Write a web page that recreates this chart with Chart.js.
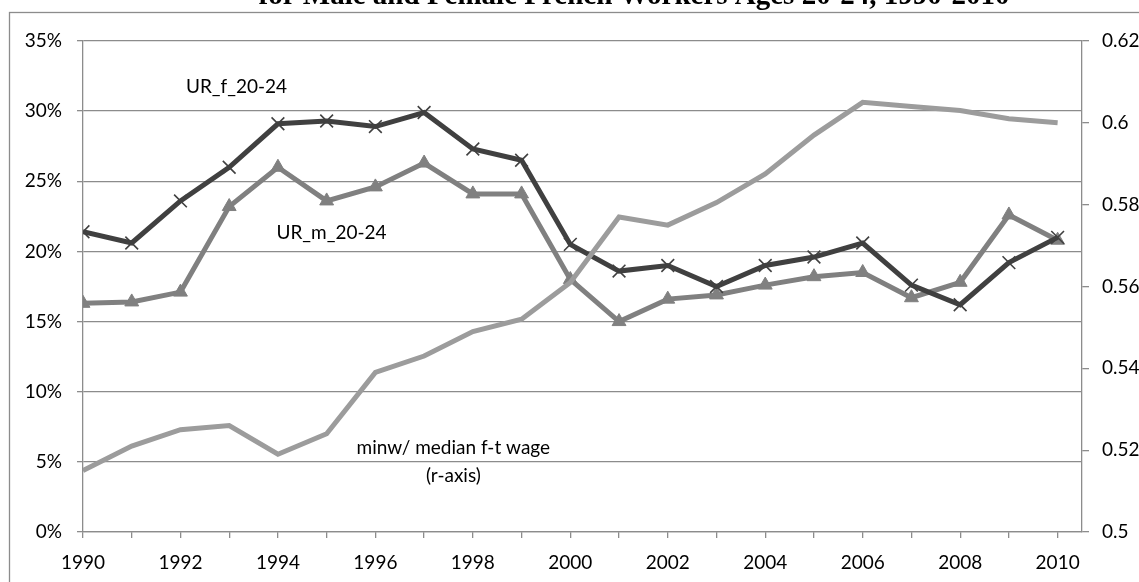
<!DOCTYPE html>
<html>
<head>
<meta charset="utf-8">
<script src="https://cdn.jsdelivr.net/npm/chart.js@4/dist/chart.umd.min.js"></script>
<style>
  html, body { margin: 0; padding: 0; background: #fff; }
  #wrap { width: 1139px; height: 582px; }
</style>
</head>
<body>
<div id="wrap"><canvas id="c" width="1139" height="582"></canvas></div>
<script>
// Years on the horizontal axis
const years = [1990, 1991, 1992, 1993, 1994, 1995, 1996, 1997, 1998, 1999, 2000,
               2001, 2002, 2003, 2004, 2005, 2006, 2007, 2008, 2009, 2010];

// Unemployment rate, women aged 20-24 (%)
const urFemale = [21.4, 20.6, 23.6, 26.0, 29.1, 29.3, 28.9, 29.9, 27.3, 26.5, 20.5,
                  18.6, 19.0, 17.5, 19.0, 19.6, 20.6, 17.6, 16.2, 19.2, 21.0];

// Unemployment rate, men aged 20-24 (%)
const urMale = [16.3, 16.4, 17.1, 23.2, 26.0, 23.6, 24.6, 26.3, 24.1, 24.1, 18.0,
                15.0, 16.6, 16.9, 17.6, 18.2, 18.5, 16.7, 17.8, 22.6, 20.8];

// Minimum wage relative to median full-time wage (right axis)
const minWageRatio = [0.515, 0.521, 0.525, 0.526, 0.519, 0.524, 0.539, 0.543, 0.549, 0.552, 0.561,
                      0.577, 0.575, 0.5805, 0.5875, 0.597, 0.605, 0.604, 0.603, 0.601, 0.600];

// Axis tick values
const leftTicks = [0, 5, 10, 15, 20, 25, 30, 35];
const rightTicks = [0.50, 0.52, 0.54, 0.56, 0.58, 0.60, 0.62];

const titleText = 'for Male and Female French Workers Ages 20-24, 1990-2010';

// Series captions placed inside the plot: [text lines, year, value on left axis]
const seriesNotes = [
  { lines: ['UR_f_20-24'], x: 1993.15, y: 31.7 },
  { lines: ['UR_m_20-24'], x: 1995.1, y: 21.3 },
  { lines: ['minw/ median f-t wage', '(r-axis)'], x: 1997.6, y: 6.0 }
];

const pairs = (vals) => years.map((yr, i) => ({ x: yr, y: vals[i] }));

const GRID = '#8c8c8c';
const FONT = 'Lato, "Open Sans", sans-serif';

Chart.defaults.font.family = FONT;
Chart.defaults.font.size = 19;
Chart.defaults.color = '#000';

const frameAndTitle = {
  id: 'frameAndTitle',
  beforeDraw(chart) {
    const ctx = chart.ctx;
    ctx.save();
    ctx.fillStyle = '#fff';
    ctx.fillRect(0, 0, chart.width, chart.height);
    ctx.strokeStyle = GRID;
    ctx.lineWidth = 1.3;
    ctx.strokeRect(9.5, 12.5, chart.width + 20, chart.height + 20);
    ctx.restore();
  },
  afterDraw(chart) {
    const ctx = chart.ctx;
    ctx.save();
    ctx.fillStyle = '#000';
    ctx.font = 'bold 29px "Liberation Serif", "DejaVu Serif", serif';
    ctx.textAlign = 'center';
    ctx.textBaseline = 'alphabetic';
    ctx.fillText(titleText, 634, 4);
    ctx.restore();
  }
};

const notes = {
  id: 'notes',
  afterDatasetsDraw(chart) {
    const ctx = chart.ctx;
    const xs = chart.scales.x, ys = chart.scales.y;
    ctx.save();
    ctx.fillStyle = '#000';
    ctx.font = '19px ' + FONT;
    ctx.textAlign = 'center';
    ctx.textBaseline = 'middle';
    seriesNotes.forEach(n => {
      const px = xs.getPixelForValue(n.x);
      const py = ys.getPixelForValue(n.y);
      n.lines.forEach((t, i) => ctx.fillText(t, px, py + i * 28));
    });
    ctx.restore();
  }
};

new Chart(document.getElementById('c'), {
  type: 'line',
  data: {
    datasets: [
      {
        label: 'minw/ median f-t wage',
        data: pairs(minWageRatio),
        yAxisID: 'y1',
        borderColor: '#9c9c9c',
        borderWidth: 5,
        pointRadius: 0,
        tension: 0
      },
      {
        label: 'UR_f_20-24',
        data: pairs(urFemale),
        yAxisID: 'y',
        borderColor: '#404040',
        borderWidth: 5,
        pointStyle: 'crossRot',
        pointRadius: 9,
        pointBorderWidth: 1.6,
        pointBorderColor: '#404040',
        pointBackgroundColor: '#404040',
        tension: 0
      },
      {
        label: 'UR_m_20-24',
        data: pairs(urMale),
        yAxisID: 'y',
        borderColor: '#808080',
        borderWidth: 5,
        pointStyle: 'triangle',
        pointRadius: 8,
        pointBorderWidth: 1,
        pointBorderColor: '#808080',
        pointBackgroundColor: '#808080',
        tension: 0
      }
    ]
  },
  options: {
    responsive: false,
    animation: false,
    devicePixelRatio: 1,
    layout: { padding: { top: 41, left: 0, right: 0, bottom: 0 } },
    plugins: {
      legend: { display: false },
      tooltip: { enabled: false },
      title: { display: false }
    },
    scales: {
      x: {
        type: 'linear',
        position: 'bottom',
        min: 1990,
        max: 2010.5,
        afterBuildTicks(scale) { scale.ticks = years.map(v => ({ value: v })); },
        afterFit(scale) { scale.height = 50; },
        ticks: {
          autoSkip: false,
          maxRotation: 0,
          padding: 13,
          callback: (v) => (v % 2 === 0 ? String(v) : '')
        },
        grid: {
          drawOnChartArea: false,
          drawTicks: true,
          tickLength: 6,
          color: GRID,
          lineWidth: 1.3
        },
        border: { display: true, color: GRID, width: 1.3 }
      },
      y: {
        position: 'left',
        min: 0,
        max: 35,
        afterBuildTicks(scale) { scale.ticks = leftTicks.map(v => ({ value: v })); },
        afterFit(scale) { scale.width = 83; },
        ticks: {
          padding: 15,
          callback: (v) => v + '%'
        },
        grid: {
          drawOnChartArea: true,
          drawTicks: true,
          tickLength: 6,
          color: GRID,
          lineWidth: 1.3
        },
        border: { display: true, color: GRID, width: 1.3 }
      },
      y1: {
        position: 'right',
        min: 0.5,
        max: 0.62,
        afterBuildTicks(scale) { scale.ticks = rightTicks.map(v => ({ value: v })); },
        afterFit(scale) { scale.width = 57; },
        ticks: {
          padding: 13,
          callback: (v) => String(Number(v.toFixed(2)))
        },
        grid: {
          drawOnChartArea: false,
          drawTicks: true,
          tickLength: 7,
          color: GRID,
          lineWidth: 1.3
        },
        border: { display: true, color: GRID, width: 1.3 }
      }
    }
  },
  plugins: [frameAndTitle, notes]
});
</script>
</body>
</html>
